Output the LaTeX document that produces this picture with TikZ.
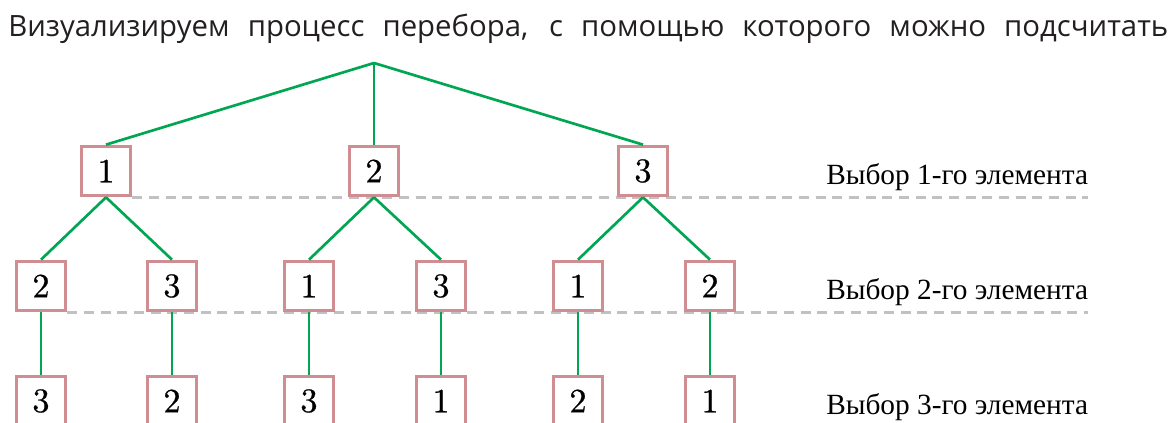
\documentclass[tikz,border=0pt]{standalone}
\usepackage{fontspec}
\newfontfamily\labelfont{Liberation Serif}
\newfontfamily\titlefont{Open Sans}
\newfontfamily\digitfont{lmroman10-regular.otf}[FakeBold=0.6]
\usetikzlibrary{backgrounds}
\definecolor{boxpink}{RGB}{208,142,146}
\definecolor{treegreen}{RGB}{0,166,81}
\definecolor{guidegray}{RGB}{192,192,197}
\definecolor{titlegray}{RGB}{35,31,32}
\begin{document}
\begin{tikzpicture}[x=0.75pt,y=-0.75pt,
    elem/.style={draw=boxpink,line width=2.5pt,fill=white,minimum size=37pt,inner sep=0pt,font=\digitfont\fontsize{25.6}{30}\selectfont},
    branch/.style={draw=treegreen,line width=2pt},
    guide/.style={draw=guidegray,line width=2.2pt,dash pattern=on 7.5pt off 5pt},
    level/.style={anchor=base west,inner sep=0pt,font=\labelfont\fontsize{22}{26}\selectfont}]
        \useasboundingbox (0,0) rectangle (1172,423);
        \node[anchor=base west,inner sep=0pt,text=titlegray,font=\titlefont\fontsize{22}{26}\selectfont] (title) at (8,37)
            {\makebox[870pt][s]{Визуализируем процесс перебора, с помощью которого можно подсчитать}};

        \coordinate (root) at (374,63);
        \node[elem] (n1) at (106,171) {1};
        \node[elem] (n2) at (374,171) {2};
        \node[elem] (n3) at (643,171) {3};

        \node[elem] (n12) at (41,286) {2};
        \node[elem] (n13) at (172,286) {3};
        \node[elem] (n21) at (309,286) {1};
        \node[elem] (n23) at (441,286) {3};
        \node[elem] (n31) at (578,286) {1};
        \node[elem] (n32) at (710,286) {2};

        \node[elem] (n123) at (41,401) {3};
        \node[elem] (n132) at (172,401) {2};
        \node[elem] (n213) at (309,401) {3};
        \node[elem] (n231) at (441,401) {1};
        \node[elem] (n312) at (578,401) {2};
        \node[elem] (n321) at (710,401) {1};

        \node[level] (lab1) at (826,185) {Выбор 1-го элемента};
        \node[level] (lab2) at (826,300) {Выбор 2-го элемента};
        \node[level] (lab3) at (826,415) {Выбор 3-го элемента};

        \begin{scope}[on background layer]
            \draw[guide] (n1.south east) -- (lab1.east |- n1.south);
            \draw[guide] (n12.south east) -- (lab2.east |- n12.south);
        \end{scope}

        \draw[branch] (root) -- (n1.north);
        \draw[branch] (root) -- (n2.north);
        \draw[branch] (root) -- (n3.north);
        \draw[branch] (n1.south) -- (n12.north);
        \draw[branch] (n1.south) -- (n13.north);
        \draw[branch] (n2.south) -- (n21.north);
        \draw[branch] (n2.south) -- (n23.north);
        \draw[branch] (n3.south) -- (n31.north);
        \draw[branch] (n3.south) -- (n32.north);
        \draw[branch] (n12) -- (n123);
        \draw[branch] (n13) -- (n132);
        \draw[branch] (n21) -- (n213);
        \draw[branch] (n23) -- (n231);
        \draw[branch] (n31) -- (n312);
        \draw[branch] (n32) -- (n321);
    \end{tikzpicture}
\end{document}
